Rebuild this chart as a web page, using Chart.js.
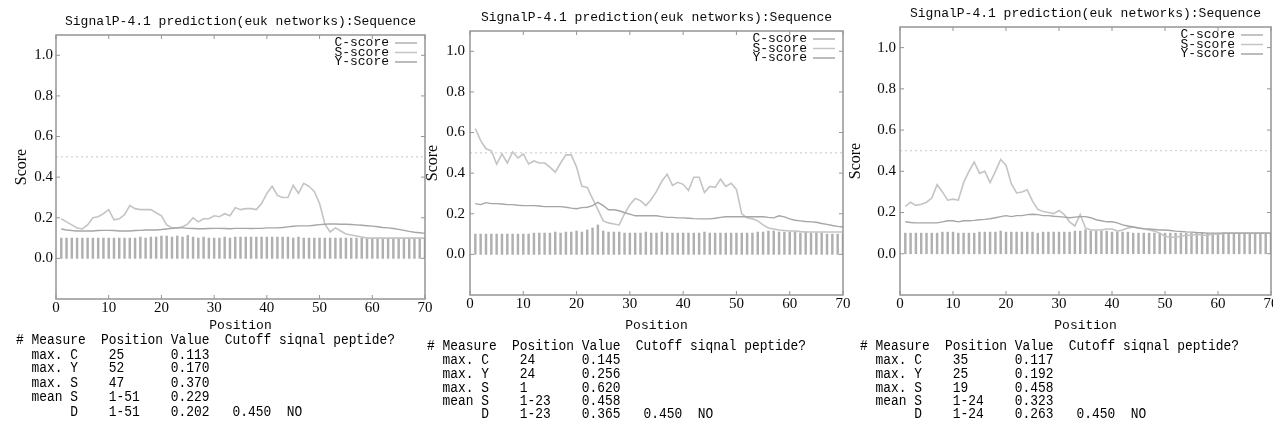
<!DOCTYPE html>
<html>
<head>
<meta charset="utf-8">
<script src="https://cdn.jsdelivr.net/npm/chart.js@4/dist/chart.umd.min.js"></script>
<style>
    html, body { margin: 0; padding: 0; background: #fff; overflow: hidden; }
    body { width: 1273px; height: 430px; position: relative; }
    canvas { position: absolute; top: 0; }
    pre.table {
        position: absolute;
        margin: 0;
        font-family: 'Liberation Mono', monospace;
        font-size: 12.9px;
        color: #000;
        transform: scaleY(1.12);
        transform-origin: 0 0;
    }
</style>
</head>
<body>
<canvas id="p1" width="437" height="335" style="left:0px"></canvas>
<canvas id="p2" width="441" height="335" style="left:414px"></canvas>
<canvas id="p3" width="429" height="335" style="left:844px"></canvas>
<pre class="table" id="t1" style="left:16px; top:334px; line-height:12.7px"></pre>
<pre class="table" id="t2" style="left:427px; top:340px; line-height:12.3px"></pre>
<pre class="table" id="t3" style="left:860px; top:340px; line-height:12.3px"></pre>

<script>
const titleText = 'SignalP-4.1 prediction(euk networks):Sequence';
const seriesNames = ['C-score', 'S-score', 'Y-score'];
const xTicks = [0, 10, 20, 30, 40, 50, 60, 70];
const yTicks = [0.0, 0.2, 0.4, 0.6, 0.8, 1.0];
const cutoffLine = 0.5;

const positions = [
    1, 2, 3, 4, 5, 6, 7, 8, 9, 10,
    11, 12, 13, 14, 15, 16, 17, 18, 19, 20,
    21, 22, 23, 24, 25, 26, 27, 28, 29, 30,
    31, 32, 33, 34, 35, 36, 37, 38, 39, 40,
    41, 42, 43, 44, 45, 46, 47, 48, 49, 50,
    51, 52, 53, 54, 55, 56, 57, 58, 59, 60,
    61, 62, 63, 64, 65, 66, 67, 68, 69, 70
];

// panel 1
const p1C = [
    0.1, 0.1, 0.1, 0.1, 0.1, 0.1, 0.1, 0.1, 0.1, 0.1,
    0.1, 0.1, 0.1, 0.1, 0.1, 0.105, 0.1, 0.105, 0.105, 0.11,
    0.11, 0.105, 0.11, 0.105, 0.113, 0.105, 0.1, 0.105, 0.1, 0.1,
    0.1, 0.105, 0.1, 0.105, 0.105, 0.105, 0.105, 0.105, 0.105, 0.105,
    0.105, 0.105, 0.105, 0.105, 0.1, 0.105, 0.1, 0.1, 0.1, 0.1,
    0.1, 0.1, 0.1, 0.1, 0.1, 0.1, 0.1, 0.1, 0.1, 0.1,
    0.1, 0.1, 0.1, 0.1, 0.1, 0.1, 0.1, 0.1, 0.1, 0.1
];
const p1S = [
    0.195, 0.18, 0.165, 0.15, 0.145, 0.165, 0.2, 0.205, 0.22, 0.24,
    0.19, 0.195, 0.215, 0.26, 0.245, 0.24, 0.24, 0.24, 0.225, 0.21,
    0.165, 0.15, 0.15, 0.155, 0.17, 0.2, 0.18, 0.195, 0.195, 0.21,
    0.205, 0.22, 0.21, 0.25, 0.24, 0.245, 0.245, 0.24, 0.27, 0.32,
    0.355, 0.31, 0.3, 0.3, 0.36, 0.32, 0.37, 0.355, 0.33, 0.27,
    0.17, 0.13, 0.15, 0.135, 0.12, 0.115, 0.11, 0.105, 0.1, 0.1,
    0.1, 0.1, 0.1, 0.1, 0.1, 0.1, 0.1, 0.1, 0.1, 0.1
];
const p1Y = [
    0.145, 0.14, 0.137, 0.135, 0.135, 0.135, 0.135, 0.137, 0.138, 0.138,
    0.137, 0.135, 0.135, 0.135, 0.137, 0.138, 0.14, 0.14, 0.14, 0.142,
    0.145, 0.148, 0.15, 0.15, 0.148, 0.147, 0.146, 0.146, 0.147, 0.148,
    0.148, 0.147, 0.146, 0.148, 0.148, 0.148, 0.147, 0.148, 0.148, 0.15,
    0.15, 0.15, 0.152, 0.155, 0.158, 0.16, 0.16, 0.16, 0.163, 0.166,
    0.168, 0.17, 0.169, 0.168, 0.168, 0.167, 0.165, 0.163, 0.161, 0.159,
    0.156, 0.152, 0.15, 0.147, 0.143, 0.138, 0.133, 0.129, 0.126, 0.123
];

// panel 2
const p2C = [
    0.1, 0.1, 0.1, 0.1, 0.1, 0.1, 0.1, 0.1, 0.1, 0.1,
    0.1, 0.105, 0.105, 0.105, 0.105, 0.11, 0.105, 0.11, 0.11, 0.115,
    0.11, 0.12, 0.13, 0.145, 0.115, 0.11, 0.11, 0.11, 0.105, 0.105,
    0.105, 0.105, 0.11, 0.105, 0.105, 0.11, 0.105, 0.105, 0.105, 0.105,
    0.105, 0.105, 0.105, 0.11, 0.105, 0.105, 0.105, 0.105, 0.105, 0.105,
    0.105, 0.105, 0.105, 0.11, 0.11, 0.115, 0.115, 0.11, 0.11, 0.11,
    0.11, 0.105, 0.11, 0.105, 0.105, 0.105, 0.1, 0.1, 0.1, 0.1
];
const p2S = [
    0.62, 0.56, 0.52, 0.51, 0.445, 0.495, 0.45, 0.505, 0.475, 0.495,
    0.445, 0.46, 0.45, 0.45, 0.43, 0.405, 0.45, 0.49, 0.49, 0.43,
    0.335, 0.33, 0.275, 0.22, 0.165, 0.155, 0.15, 0.145, 0.2, 0.245,
    0.275, 0.265, 0.24, 0.27, 0.31, 0.36, 0.395, 0.34, 0.355, 0.345,
    0.315, 0.38, 0.38, 0.305, 0.335, 0.33, 0.37, 0.335, 0.35, 0.32,
    0.2, 0.18, 0.175, 0.165, 0.145, 0.13, 0.125, 0.12, 0.118, 0.115,
    0.115, 0.112, 0.11, 0.11, 0.11, 0.11, 0.11, 0.11, 0.11, 0.11
];
const p2Y = [
    0.25, 0.245, 0.255, 0.25, 0.25, 0.248, 0.245, 0.245, 0.242, 0.24,
    0.24, 0.24, 0.238, 0.235, 0.235, 0.235, 0.235, 0.232, 0.228, 0.225,
    0.23, 0.232, 0.24, 0.256, 0.24, 0.22, 0.22, 0.215, 0.205, 0.198,
    0.19, 0.19, 0.19, 0.19, 0.19, 0.186, 0.182, 0.182, 0.18, 0.18,
    0.178, 0.176, 0.175, 0.175, 0.175, 0.178, 0.182, 0.185, 0.185, 0.185,
    0.185, 0.185, 0.185, 0.185, 0.185, 0.182, 0.18, 0.19, 0.185, 0.175,
    0.168, 0.165, 0.162, 0.16, 0.158, 0.152, 0.148, 0.142, 0.138, 0.135
];

// panel 3
const p3C = [
    0.1, 0.1, 0.1, 0.1, 0.1, 0.1, 0.1, 0.105, 0.105, 0.105,
    0.1, 0.1, 0.1, 0.1, 0.105, 0.105, 0.105, 0.105, 0.11, 0.105,
    0.105, 0.105, 0.105, 0.105, 0.105, 0.1, 0.105, 0.105, 0.105, 0.105,
    0.105, 0.105, 0.11, 0.11, 0.117, 0.11, 0.11, 0.11, 0.11, 0.105,
    0.105, 0.105, 0.105, 0.1, 0.1, 0.1, 0.1, 0.1, 0.1, 0.1,
    0.1, 0.1, 0.1, 0.1, 0.1, 0.1, 0.1, 0.1, 0.1, 0.1,
    0.1, 0.1, 0.1, 0.1, 0.1, 0.1, 0.1, 0.1, 0.1, 0.1
];
const p3S = [
    0.23, 0.25, 0.235, 0.24, 0.25, 0.27, 0.335, 0.3, 0.26, 0.265,
    0.26, 0.345, 0.4, 0.445, 0.39, 0.4, 0.345, 0.4, 0.458, 0.43,
    0.34, 0.295, 0.3, 0.31, 0.255, 0.215, 0.205, 0.2, 0.195, 0.21,
    0.19, 0.155, 0.135, 0.19, 0.125, 0.115, 0.115, 0.115, 0.12, 0.12,
    0.11, 0.115, 0.125, 0.13, 0.125, 0.12, 0.115, 0.11, 0.1, 0.085,
    0.08, 0.08, 0.085, 0.09, 0.09, 0.095, 0.09, 0.09, 0.095, 0.095,
    0.1, 0.1, 0.1, 0.1, 0.1, 0.1, 0.1, 0.1, 0.1, 0.1
];
const p3Y = [
    0.155, 0.152, 0.15, 0.15, 0.15, 0.15, 0.15, 0.155, 0.16, 0.16,
    0.155, 0.16, 0.16, 0.162, 0.165, 0.167, 0.17, 0.175, 0.18, 0.185,
    0.18, 0.185, 0.185, 0.19, 0.192, 0.19, 0.185, 0.185, 0.182, 0.18,
    0.178, 0.175, 0.178, 0.18, 0.18, 0.175, 0.165, 0.16, 0.155, 0.155,
    0.15, 0.14, 0.135, 0.13, 0.125, 0.122, 0.12, 0.118, 0.115, 0.115,
    0.113, 0.11, 0.108, 0.106, 0.105, 0.103, 0.102, 0.1, 0.1, 0.1,
    0.1, 0.1, 0.1, 0.1, 0.1, 0.1, 0.1, 0.1, 0.1, 0.1
];

// summary tables
const tableHeader = '# Measure  Position Value  Cutoff siqnal peptide?';
const measureLabels = ['max. C', 'max. Y', 'max. S', 'mean S', '     D'];
const p1TablePos = ['25', '52', '47', '1-51', '1-51'];
const p1TableVal = ['0.113', '0.170', '0.370', '0.229', '0.202'];
const p2TablePos = ['24', '24', '1', '1-23', '1-23'];
const p2TableVal = ['0.145', '0.256', '0.620', '0.458', '0.365'];
const p3TablePos = ['35', '25', '19', '1-24', '1-24'];
const p3TableVal = ['0.117', '0.192', '0.458', '0.323', '0.263'];
const tableCutoff = ['', '', '', '', '0.450'];
const tableAnswer = ['', '', '', '', 'NO'];


const colors = {
    c: '#b0b0b0',
    s: '#c4c4c4',
    y: '#a6a6a6',
    cutoff: '#c8c8c8',
    frame: '#959595',
    text: '#0a0a0a'
};


// frame + little inward tick marks, gnuplot style
const framePlugin = {
    id: 'frame',
    afterDatasetsDraw(chart) {
        const { ctx, chartArea: a, scales: { x, y } } = chart;
        ctx.save();
        ctx.strokeStyle = colors.frame;
        ctx.lineWidth = 1.5;
        ctx.strokeRect(a.left, a.top, a.right - a.left, a.bottom - a.top);

        ctx.lineWidth = 1;
        ctx.beginPath();
        xTicks.forEach(v => {
            const px = x.getPixelForValue(v);
            ctx.moveTo(px, a.bottom); ctx.lineTo(px, a.bottom - 4);
            ctx.moveTo(px, a.top); ctx.lineTo(px, a.top + 4);
        });
        yTicks.forEach(v => {
            const py = y.getPixelForValue(v);
            ctx.moveTo(a.left, py); ctx.lineTo(a.left + 4, py);
            ctx.moveTo(a.right, py); ctx.lineTo(a.right - 4, py);
        });
        ctx.stroke();
        ctx.restore();
    }
};

// legend drawn inside the top right corner of the plot
const cornerLegend = {
    id: 'cornerLegend',
    afterDraw(chart) {
        const { ctx, chartArea: a } = chart;
        const lineColors = [colors.c, colors.s, colors.y];
        ctx.save();
        ctx.font = '13px "Liberation Mono", monospace';
        ctx.textAlign = 'right';
        ctx.textBaseline = 'middle';
        seriesNames.forEach((name, i) => {
            const yy = a.top + 8 + i * 9.5;
            ctx.fillStyle = colors.text;
            ctx.fillText(name, a.right - 36, yy);
            ctx.strokeStyle = lineColors[i];
            ctx.lineWidth = 1.5;
            ctx.beginPath();
            ctx.moveTo(a.right - 30, yy);
            ctx.lineTo(a.right - 8, yy);
            ctx.stroke();
        });
        ctx.restore();
    }
};


function points(values) {
    return positions.map((p, i) => ({ x: p, y: values[i] }));
}


function createPanel(id, panel) {

    const {
        cScores,
        sScores,
        yScores,
        yAxisWidth,
        xAxisHeight,
        titlePad,
        scorePad,
        yTickPad,
        rightPad
    } = panel;

    return new Chart(document.getElementById(id), {

        type: 'line',

        data: {
            datasets: [
                {
                    type: 'bar',
                    label: seriesNames[0],
                    data: points(cScores),
                    backgroundColor: colors.c,
                    barThickness: 1.8,
                    order: 3
                },
                {
                    label: seriesNames[1],
                    data: points(sScores),
                    borderColor: colors.s,
                    borderWidth: 1.6,
                    pointRadius: 0,
                    tension: 0,
                    order: 2
                },
                {
                    label: seriesNames[2],
                    data: points(yScores),
                    borderColor: colors.y,
                    borderWidth: 1.4,
                    pointRadius: 0,
                    tension: 0,
                    order: 1
                },
                {
                    label: 'cutoff',
                    data: [{ x: xTicks[0], y: cutoffLine }, { x: xTicks[xTicks.length - 1], y: cutoffLine }],
                    borderColor: colors.cutoff,
                    borderWidth: 1,
                    borderDash: [2, 3],
                    pointRadius: 0,
                    order: 4
                }
            ]
        },

        options: {
            responsive: false,
            animation: false,
            events: [],

            layout: {
                padding: { left: 0, right: rightPad, top: 0, bottom: 0 }
            },

            plugins: {
                legend: { display: false },
                tooltip: { enabled: false },
                title: {
                    display: true,
                    text: titleText,
                    fullSize: false,
                    color: colors.text,
                    font: { family: 'Liberation Mono', size: 13, weight: 'normal' },
                    padding: titlePad
                }
            },

            scales: {
                x: {
                    type: 'linear',
                    min: 0,
                    max: 70,
                    offset: false,
                    grid: { display: false, drawTicks: false },
                    border: { display: false },
                    ticks: {
                        stepSize: 10,
                        padding: 0,
                        maxRotation: 0,
                        color: colors.text,
                        font: { family: 'Liberation Serif', size: 15 }
                    },
                    title: {
                        display: true,
                        text: 'Position',
                        color: colors.text,
                        font: { family: 'Liberation Mono', size: 13 },
                        padding: { top: 0, bottom: 2 }
                    },
                    afterFit(scale) {
                        scale.height = xAxisHeight;
                        scale.paddingLeft = 0;
                        scale.paddingRight = 0;
                    }
                },

                y: {
                    min: -0.2,
                    max: 1.1,
                    grid: { display: false, drawTicks: false },
                    border: { display: false },
                    ticks: {
                        stepSize: 0.2,
                        padding: yTickPad,
                        color: colors.text,
                        font: { family: 'Liberation Serif', size: 15 },
                        callback: v => (v < -0.01 || v > 1.01) ? null : v.toFixed(1)
                    },
                    title: {
                        display: true,
                        text: 'Score',
                        color: colors.text,
                        font: { family: 'Liberation Serif', size: 16 },
                        padding: { top: scorePad, bottom: 0 }
                    },
                    afterFit(scale) {
                        scale.width = yAxisWidth;
                        scale.paddingTop = 0;
                        scale.paddingBottom = 0;
                    }
                }
            }
        },

        plugins: [framePlugin, cornerLegend]
    });
}


function fillTable(id, tablePos, tableVal) {
    const rows = measureLabels.map((label, i) =>
        '  ' + label.padEnd(10) + tablePos[i].padEnd(8) +
        tableVal[i].padEnd(8) + tableCutoff[i].padEnd(7) + tableAnswer[i]
    );
    document.getElementById(id).textContent = [tableHeader, ...rows].join('\n');
}


createPanel('p1', {
    cScores: p1C, sScores: p1S, yScores: p1Y,
    yAxisWidth: 56, xAxisHeight: 36, rightPad: 12,
    titlePad: { top: 14, bottom: 5.4 }, scorePad: 12.4, yTickPad: 3
});

createPanel('p2', {
    cScores: p2C, sScores: p2S, yScores: p2Y,
    yAxisWidth: 56, xAxisHeight: 40, rightPad: 12,
    titlePad: { top: 10, bottom: 5.4 }, scorePad: 9.4, yTickPad: 5
});

createPanel('p3', {
    cScores: p3C, sScores: p3S, yScores: p3Y,
    yAxisWidth: 56, xAxisHeight: 40, rightPad: 2,
    titlePad: { top: 6, bottom: 5.4 }, scorePad: 2.6, yTickPad: 4
});

fillTable('t1', p1TablePos, p1TableVal);
fillTable('t2', p2TablePos, p2TableVal);
fillTable('t3', p3TablePos, p3TableVal);
</script>
</body>
</html>
